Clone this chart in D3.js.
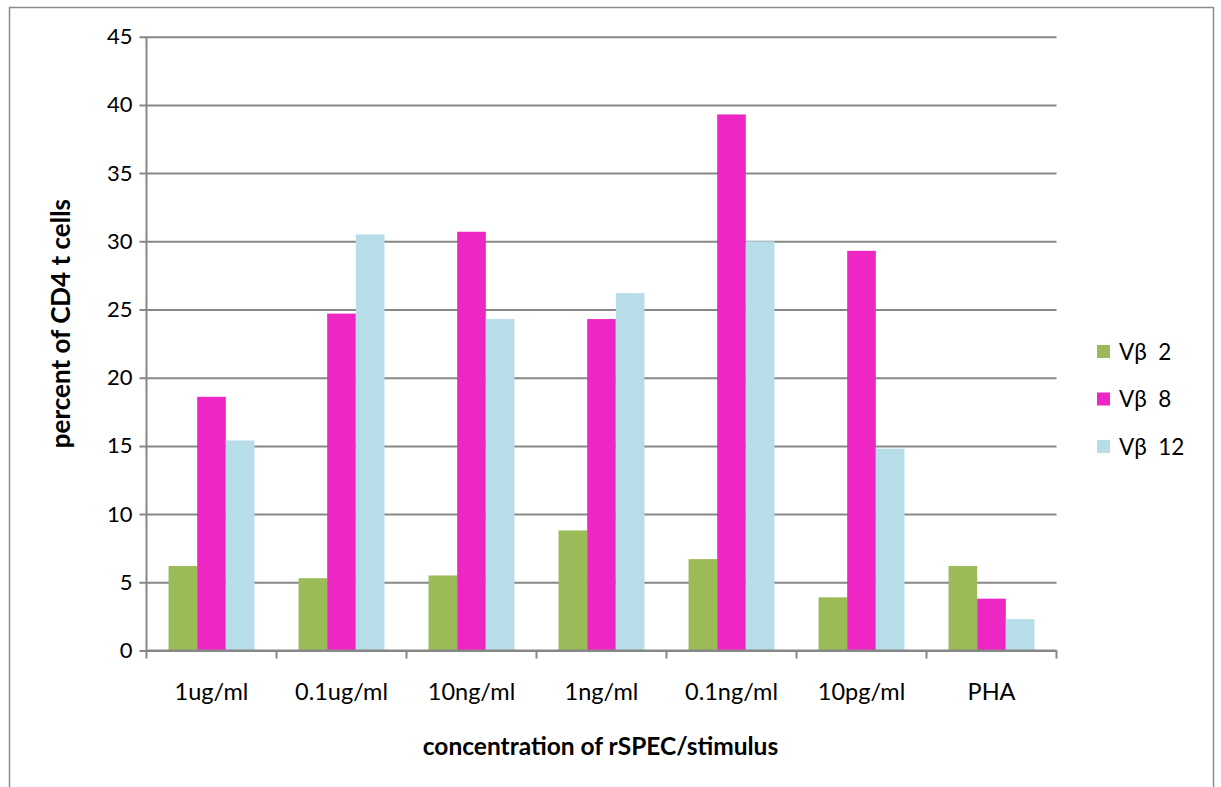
<!DOCTYPE html>
<html>
<head>
<meta charset="utf-8">
<script src="https://cdn.jsdelivr.net/npm/d3@7"></script>
<style>
  html, body { margin: 0; padding: 0; background: #fff; }
  svg { display: block; }
  text { font-family: Lato, "Open Sans", "Liberation Sans", sans-serif; fill: #000; }
</style>
</head>
<body>
<svg id="chart" width="1221" height="787"></svg>
<script>
// Concentrations of rSPEC (plus PHA control)
const categories = ["1ug/ml", "0.1ug/ml", "10ng/ml", "1ng/ml", "0.1ng/ml", "10pg/ml", "PHA"];
// Percent of CD4 T cells per Vβ family
const vb2  = [6.2, 5.3, 5.5, 8.8, 6.7, 3.9, 6.2];
const vb8  = [18.6, 24.7, 30.7, 24.3, 39.3, 29.3, 3.8];
const vb12 = [15.4, 30.5, 24.3, 26.2, 30.0, 14.8, 2.3];
const seriesNames = ["Vβ  2", "Vβ  8", "Vβ  12"];
const seriesColors = ["#9BBB59", "#EE27C4", "#B7DDE8"];
const yTicks = [0, 5, 10, 15, 20, 25, 30, 35, 40, 45];

const series = [vb2, vb8, vb12];
const svg = d3.select("#chart");

// Outer frame
svg.append("rect")
  .attr("x", 9.5).attr("y", 7.5)
  .attr("width", 1204).attr("height", 790)
  .attr("fill", "none").attr("stroke", "#8c8c8c").attr("stroke-width", 1.5);

const plot = { left: 146.5, right: 1056.5, top: 36.7, bottom: 650.5 };

const x0 = d3.scaleBand().domain(categories).range([plot.left, plot.right]).paddingInner(0).paddingOuter(0);
const x1 = d3.scaleBand().domain(d3.range(3)).range([0, x0.bandwidth()]).paddingInner(0).paddingOuter(0.77);
const y = d3.scaleLinear().domain([0, 45]).range([plot.bottom, plot.top]);

const gridColor = "#878787";
const tickFont = "23.5px";

// Horizontal gridlines with short tick stubs on the left
const yAxis = d3.axisLeft(y).tickValues(yTicks).tickSize(plot.right - plot.left + 8).tickPadding(6).tickFormat(d3.format("d"));
const gy = svg.append("g")
  .attr("transform", `translate(${plot.right},0)`)
  .call(yAxis);
gy.select(".domain").remove();
gy.selectAll(".tick line").attr("stroke", gridColor).attr("stroke-width", 2)
  .attr("x2", -(plot.right - plot.left + 7));
gy.selectAll(".tick text")
  .attr("x", -(plot.right - plot.left) - 14)
  .style("font-size", "22px").attr("fill", "#000");

// Bars
const groups = svg.append("g").selectAll("g")
  .data(categories)
  .join("g")
  .attr("transform", d => `translate(${x0(d)},0)`);

groups.selectAll("rect")
  .data((c, i) => series.map((s, k) => ({ k, v: s[i] })))
  .join("rect")
  .attr("x", d => x1(d.k))
  .attr("width", x1.bandwidth())
  .attr("y", d => y(d.v))
  .attr("height", d => y(0) - y(d.v))
  .attr("fill", d => seriesColors[d.k]);

// Vertical axis line
svg.append("line")
  .attr("x1", plot.left).attr("x2", plot.left)
  .attr("y1", plot.top).attr("y2", plot.bottom)
  .attr("stroke", gridColor).attr("stroke-width", 2);

// Category axis
const xAxis = d3.axisBottom(x0).tickSize(0).tickPadding(0);
const gx = svg.append("g").attr("transform", `translate(0,${plot.bottom})`).call(xAxis);
gx.select(".domain").attr("stroke", gridColor).attr("stroke-width", 2)
  .attr("d", `M${plot.left},0H${plot.right}`);
gx.selectAll(".tick text").attr("dy", 0).attr("y", 49).style("font-size", tickFont).attr("fill", "#000");

// Category separators
const sepPositions = categories.map(c => x0(c)).concat([plot.right]);
svg.append("g").selectAll("line")
  .data(sepPositions)
  .join("line")
  .attr("x1", d => d).attr("x2", d => d)
  .attr("y1", plot.bottom).attr("y2", plot.bottom + 8)
  .attr("stroke", gridColor).attr("stroke-width", 2);

// Axis titles
svg.append("text")
  .attr("x", (plot.left + plot.right) / 2 - 1).attr("y", 755)
  .attr("text-anchor", "middle")
  .style("font-size", "24.5px").style("font-weight", "bold")
  .text("concentration of rSPEC/stimulus");

svg.append("text")
  .attr("transform", `translate(70,${(plot.top + plot.bottom) / 2 - 20}) rotate(-90)`)
  .attr("text-anchor", "middle")
  .style("font-size", "26px").style("font-weight", "bold")
  .text("percent of CD4 t cells");

// Legend
const legend = svg.append("g").selectAll("g")
  .data(seriesNames)
  .join("g")
  .attr("transform", (d, i) => `translate(1097,${345 + i * 47.5})`);
legend.append("rect")
  .attr("width", 13).attr("height", 13)
  .attr("fill", (d, i) => seriesColors[i]);
legend.append("text")
  .attr("x", 22).attr("y", 7).attr("dy", "0.35em")
  .style("font-size", "22.5px")
  .attr("xml:space", "preserve")
  .text(d => d);
</script>
</body>
</html>
